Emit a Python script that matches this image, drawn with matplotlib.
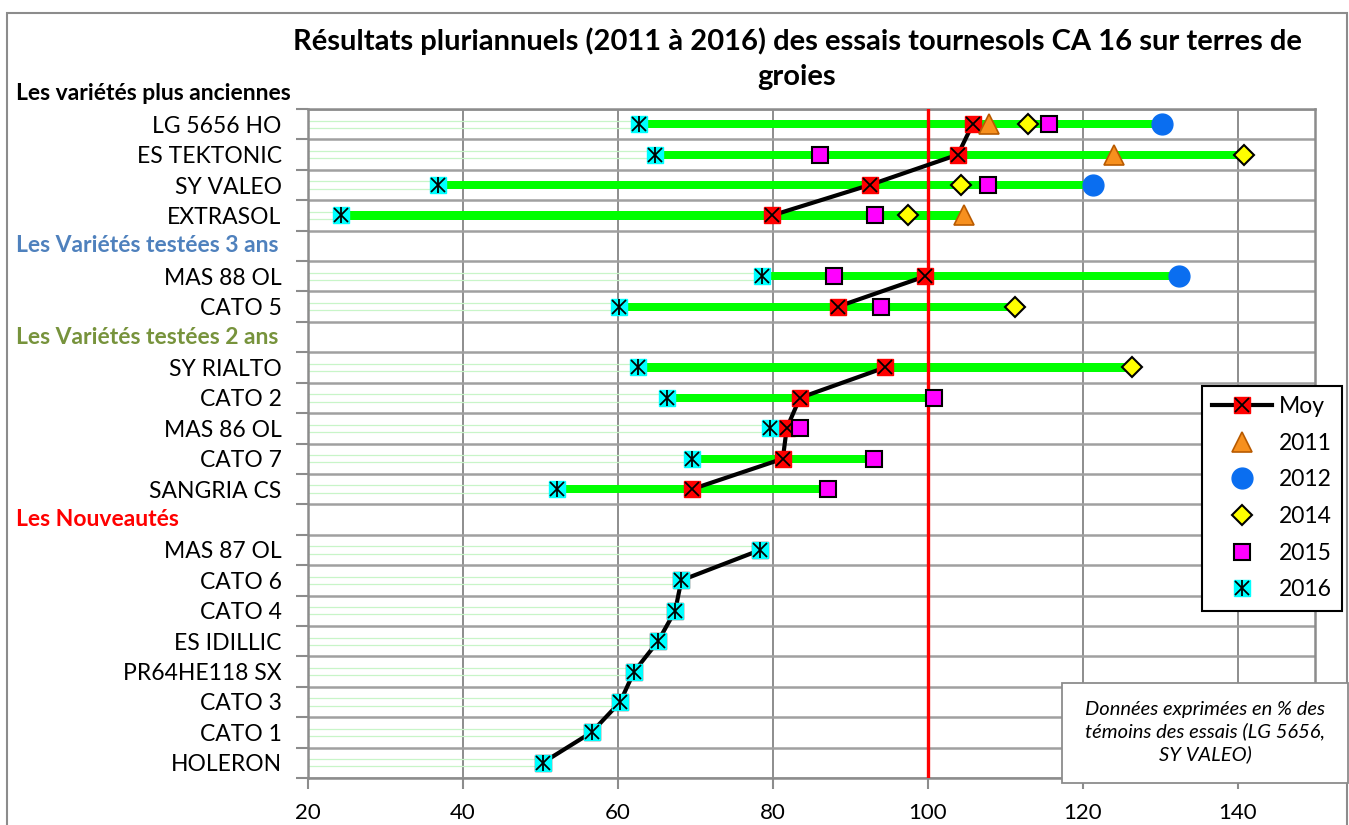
import numpy as np
import matplotlib
matplotlib.use("Agg")
import matplotlib.pyplot as plt
import matplotlib.transforms as mtransforms
from matplotlib.lines import Line2D
from matplotlib.legend_handler import HandlerTuple
from matplotlib.patches import Rectangle

plt.rcParams['font.family'] = ['Lato', 'DejaVu Sans']

nan = np.nan
categories = ["LG 5656 HO", "ES TEKTONIC", "SY VALEO", "EXTRASOL", "",
              "MAS 88 OL", "CATO 5", "",
              "SY RIALTO", "CATO 2", "MAS 86 OL", "CATO 7", "SANGRIA CS", "",
              "MAS 87 OL", "CATO 6", "CATO 4", "ES IDILLIC", "PR64HE118 SX",
              "CATO 3", "CATO 1", "HOLERON"]

moy = [105.8, 103.9, 92.5, 79.9, nan, 99.7, 88.4, nan, 94.5, 83.5, 81.8, 81.3,
       69.6, nan, 78.4, 68.2, 67.4, 65.2, 62.1, 60.3, 56.6, 50.3]
y2011 = [107.9, 124.0, nan, 104.7, nan, nan, nan, nan, nan, nan, nan, nan,
         nan, nan, nan, nan, nan, nan, nan, nan, nan, nan]
y2012 = [130.3, nan, 121.3, nan, nan, 132.5, nan, nan, nan, nan, nan, nan,
         nan, nan, nan, nan, nan, nan, nan, nan, nan, nan]
y2014 = [112.9, 140.8, 104.3, 97.5, nan, nan, 111.3, nan, 126.4, nan, nan, nan,
         nan, nan, nan, nan, nan, nan, nan, nan, nan, nan]
y2015 = [115.6, 86.1, 107.8, 93.2, nan, 87.9, 94.0, nan, nan, 100.8, 83.5, 93.1,
         87.1, nan, nan, nan, nan, nan, nan, nan, nan, nan]
y2016 = [62.7, 64.8, 36.8, 24.2, nan, 78.6, 60.1, nan, 62.6, 66.4, 79.7, 69.6,
         52.1, nan, 78.4, 68.2, 67.4, 65.2, 62.1, 60.3, 56.6, 50.3]

headers = ["Les Variétés testées 3 ans", "Les Variétés testées 2 ans", "Les Nouveautés"]
header_rows = [4, 7, 13]
header_colors = ["#4F81BD", "#77933C", "#FF0000"]

title = "Résultats pluriannuels (2011 à 2016) des essais tournesols CA 16 sur terres de\ngroies"
note = "Données exprimées en % des\ntémoins des essais (LG 5656,\nSY VALEO)"

W, H = 1349, 825
fig = plt.figure(figsize=(W / 100, H / 100), dpi=100)
ax = fig.add_axes([308 / W, 1 - 778 / H, (1315 - 308) / W, (778 - 109) / H])

n = len(categories)
ypos = np.arange(n)
allv = np.array([moy, y2011, y2012, y2014, y2015, y2016], dtype=float)
has = ~np.all(np.isnan(allv), axis=0)
vmin = np.where(has, np.min(np.where(np.isnan(allv), np.inf, allv), axis=0), nan)
vmax = np.where(has, np.max(np.where(np.isnan(allv), -np.inf, allv), axis=0), nan)

xmin, xmax = 20, 150
ax.set_xlim(xmin, xmax)
ax.set_ylim(n - 0.5, -0.5)

# faint outline bars from axis start to min
for i in range(n):
    if has[i]:
        ax.add_patch(Rectangle((xmin, i - 0.12), vmin[i] - xmin, 0.24, fill=False,
                               edgecolor="#c8f5c8", lw=0.9, zorder=1.5))
# green range bars
rng = np.where(has, vmax - vmin, 0)
ax.barh(ypos[has], rng[has], left=vmin[has], height=0.27, color="#00FF00",
        edgecolor="none", zorder=2)

# reference line at 100
ax.axvline(100, color="#FF0000", lw=2.4, zorder=3)

# Moy series
ax.plot(moy, ypos, color="black", lw=3, zorder=4)
ax.plot(moy, ypos, ls="none", marker="s", ms=12, mfc="#FF0000", mec="#FF0000", zorder=5)
ax.plot(moy, ypos, ls="none", marker="x", ms=10, mew=1.3, color="black", zorder=5.1)

ax.plot(y2011, ypos, ls="none", marker="^", ms=14, mfc="#F7901E", mec="#B85A00", mew=1.2, zorder=6)
ax.plot(y2012, ypos, ls="none", marker="o", ms=15, mfc="#0A6EF0", mec="#0A6EF0", zorder=6)
ax.plot(y2014, ypos, ls="none", marker="D", ms=10, mfc="#FFFF00", mec="black", mew=1.5, zorder=6)
ax.plot(y2015, ypos, ls="none", marker="s", ms=12, mfc="#FF00FF", mec="black", mew=1.5, zorder=6)
ax.plot(y2016, ypos, ls="none", marker="s", ms=12, mfc="#00FFFF", mec="#00FFFF", zorder=7)
ax.plot(y2016, ypos, ls="none", marker="x", ms=10, mew=1.3, color="black", zorder=7.1)
ax.plot(y2016, ypos, ls="none", marker="|", ms=12, mew=1.3, color="black", zorder=7.1)

# grid / ticks
gridc = "#8c8c8c"
ax.set_xticks(np.arange(20, 141, 20))
ax.set_yticks(np.arange(-0.5, n, 1.0))
ax.set_yticklabels([])
ax.set_yticks(ypos, minor=True)
ax.set_yticklabels(categories, minor=True, fontsize=16.5)
ax.tick_params(axis="y", which="minor", length=0, pad=19)
ax.tick_params(axis="y", which="major", length=9, width=1.5, color=gridc, direction="out")
ax.tick_params(axis="x", length=8, width=1.5, color=gridc, direction="out", labelsize=16, pad=10)
for x in range(40, 141, 20):
    ax.axvline(x, color="#7a7a7a", lw=1.2, zorder=1)
for yb in np.arange(-0.5, n, 1.0):
    ax.axhline(yb, color="#a0a0a0", lw=1.8, zorder=1)
for s in ax.spines.values():
    s.set_color(gridc)
    s.set_linewidth(1.8)

# headers
fig.text(16 / W, 1 - 94 / H, "Les variétés plus anciennes", fontsize=16.5, fontweight="bold",
         ha="left", va="center", color="black")
tr = mtransforms.blended_transform_factory(fig.transFigure, ax.transData)
for txt, r, c in zip(headers, header_rows, header_colors):
    fig.text(16 / W, r, txt, transform=tr, fontsize=16.5, fontweight="bold",
             ha="left", va="center", color=c)

fig.text(797 / W, 1 - 59 / H, title, fontsize=21, fontweight="bold", ha="center",
         va="center", linespacing=1.42)

# note box
fig.add_artist(Rectangle((1062 / W, 1 - 783 / H), (1348 - 1062) / W, 100 / H,
                         transform=fig.transFigure, fc="white", ec="#8c8c8c", lw=1.3, zorder=10))
fig.text(1205 / W, 1 - 732 / H, note, fontsize=14.5, style="italic", ha="center", va="center",
         linespacing=1.3, zorder=11)

# legend
h_moy = (Line2D([], [], color="black", lw=3),
         Line2D([], [], ls="none", marker="s", ms=12, mfc="#FF0000", mec="#FF0000"),
         Line2D([], [], ls="none", marker="x", ms=10, mew=1.3, color="black"))
h11 = Line2D([], [], ls="none", marker="^", ms=14, mfc="#F7901E", mec="#B85A00", mew=1.2)
h12 = Line2D([], [], ls="none", marker="o", ms=15, mfc="#0A6EF0", mec="#0A6EF0")
h14 = Line2D([], [], ls="none", marker="D", ms=10, mfc="#FFFF00", mec="black", mew=1.5)
h15 = Line2D([], [], ls="none", marker="s", ms=12, mfc="#FF00FF", mec="black", mew=1.5)
h16 = (Line2D([], [], ls="none", marker="s", ms=12, mfc="#00FFFF", mec="#00FFFF"),
       Line2D([], [], ls="none", marker="x", ms=10, mew=1.3, color="black"),
       Line2D([], [], ls="none", marker="|", ms=12, mew=1.3, color="black"))
leg = fig.legend([h_moy, h11, h12, h14, h15, h16], ["Moy", "2011", "2012", "2014", "2015", "2016"],
                 handler_map={tuple: HandlerTuple(ndivide=1, pad=0)},
                 loc="upper left", bbox_to_anchor=(1202 / W, 1 - 386 / H), borderaxespad=0,
                 fontsize=16.5, fancybox=False, framealpha=1, edgecolor="black",
                 handlelength=2.6, handletextpad=0.3, labelspacing=0.68, borderpad=0.45)
leg.get_frame().set_linewidth(1.5)
leg.set_zorder(10)

# outer frame
fig.add_artist(Rectangle((7 / W, -0.05), (1347 - 7) / W, 1 - 13 / H + 0.05, transform=fig.transFigure,
                         fill=False, ec="#8c8c8c", lw=1.5))

fig.savefig("out.png", dpi=100)
